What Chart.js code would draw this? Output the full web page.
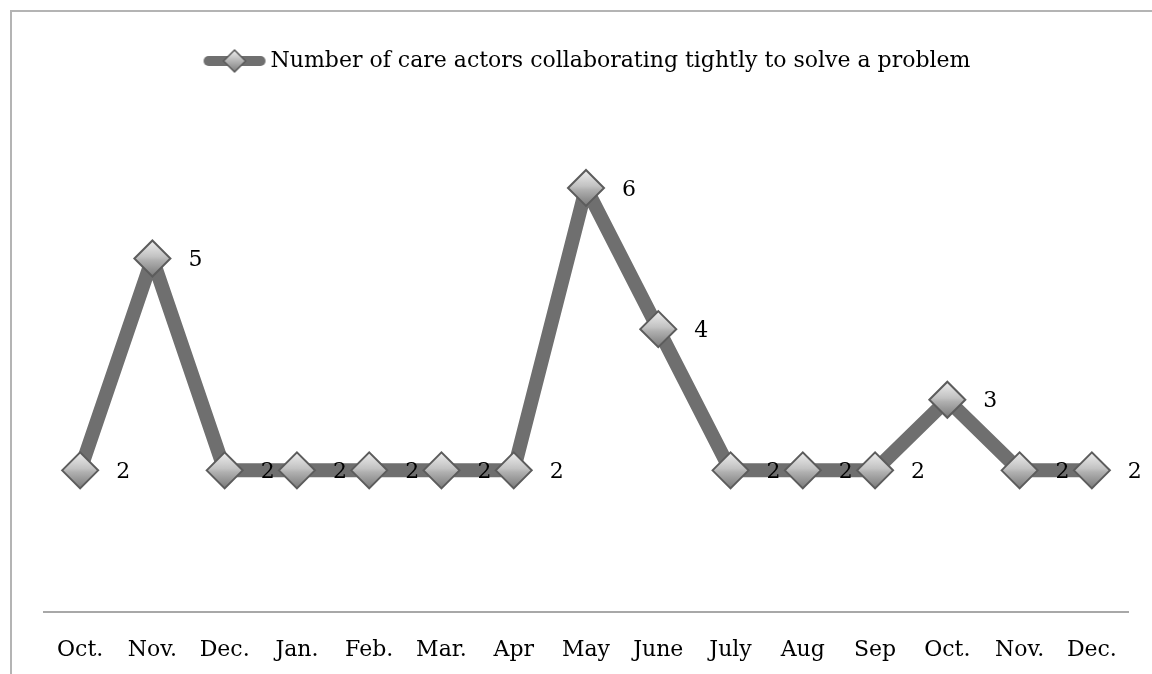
<!DOCTYPE html>
<html lang="en">
<head>
<meta charset="UTF-8">
<title>Care actors collaborating</title>
<script src="https://cdn.jsdelivr.net/npm/chart.js"></script>
<style>
  html, body { margin: 0; padding: 0; background: #fff; overflow: hidden; }
  .frame { position: absolute; left: 10px; top: 10px; width: 1160px; height: 700px;
           border-top: 2px solid #b4b4b4; border-left: 2px solid #b4b4b4; }
  .wrap { position: absolute; left: 0; top: 0; width: 1152px; height: 698px; }
</style>
</head>
<body>
<div class="frame"></div>
<div class="wrap"><canvas id="chart"></canvas></div>
<script>
// data
const months = ['Oct.', 'Nov.', 'Dec.', 'Jan.', 'Feb.', 'Mar.', 'Apr', 'May', 'June', 'July', 'Aug', 'Sep', 'Oct.', 'Nov.', 'Dec.'];
const actors = [2, 5, 2, 2, 2, 2, 2, 6, 4, 2, 2, 2, 3, 2, 2];
const seriesName = 'Number of care actors collaborating tightly to solve a problem';

const FONT = "'DejaVu Serif', serif";
const LINE = '#6f6f6f';

// legend sample: thick line with a diamond in the middle
function legendIcon() {
    const c = document.createElement('canvas');
    c.width = 80; c.height = 26;
    const g = c.getContext('2d');
    g.lineCap = 'round';
    g.lineWidth = 10;
    g.strokeStyle = LINE;
    g.beginPath(); g.moveTo(18, 13); g.lineTo(70, 13); g.stroke();
    const grad = g.createLinearGradient(0, 2, 0, 24);
    grad.addColorStop(0, '#f0f0f0');
    grad.addColorStop(0.5, '#b5b5b5');
    grad.addColorStop(1, '#7c7c7c');
    g.fillStyle = grad;
    g.strokeStyle = '#5a5a5a';
    g.lineWidth = 1.5;
    g.beginPath();
    g.moveTo(44, 2); g.lineTo(55, 13); g.lineTo(44, 24); g.lineTo(33, 13); g.closePath();
    g.fill(); g.stroke();
    return c;
}

// value labels to the right of each point
const valueLabels = {
    id: 'valueLabels',
    afterDatasetsDraw(chart) {
        const ctx = chart.ctx;
        const meta = chart.getDatasetMeta(0);
        ctx.save();
        ctx.font = '22px ' + FONT;
        ctx.fillStyle = '#000';
        ctx.textAlign = 'center';
        ctx.textBaseline = 'middle';
        meta.data.forEach((pt, i) => {
            ctx.fillText(String(actors[i]), pt.x + 43, pt.y + 2);
        });
        ctx.restore();
    }
};

const ctx = document.getElementById('chart').getContext('2d');
const chart = new Chart(ctx, {
    type: 'line',
    data: {
        labels: months,
        datasets: [{
            label: seriesName,
            data: actors,
            borderColor: LINE,
            borderWidth: 14,
            borderJoinStyle: 'bevel',
            tension: 0,
            clip: false,
            pointStyle: 'rectRot',
            pointRadius: 18,
            pointHoverRadius: 18,
            pointBorderWidth: 2,
            pointBorderColor: '#5c5c5c',
            pointBackgroundColor: function(context) {
                const chart = context.chart;
                if (!chart.chartArea || context.type !== 'data') return '#aaa';
                const y = chart.scales.y.getPixelForValue(context.parsed.y);
                const g = chart.ctx.createLinearGradient(0, y - 18, 0, y + 18);
                g.addColorStop(0, '#eeeeee');
                g.addColorStop(0.45, '#c2c2c2');
                g.addColorStop(0.55, '#b0b0b0');
                g.addColorStop(1, '#7a7a7a');
                return g;
            }
        }]
    },
    options: {
        responsive: true,
        maintainAspectRatio: false,
        animation: false,
        layout: { padding: { left: 44, right: 24, top: 30, bottom: 10 } },
        scales: {
            x: {
                offset: true,
                grid: { display: false, drawTicks: false },
                border: { display: true, color: '#a8a8a8', width: 2 },
                ticks: { color: '#000', padding: 25, font: { family: FONT, size: 22 } }
            },
            y: {
                display: false,
                min: 0,
                max: 7.5
            }
        },
        plugins: {
            legend: {
                display: true,
                labels: {
                    usePointStyle: true,
                    pointStyle: legendIcon(),
                    pointStyleWidth: 58,
                    color: '#000',
                    padding: 20,
                    font: { family: FONT, size: 22 }
                }
            },
            tooltip: { enabled: false }
        }
    },
    plugins: [valueLabels]
});
</script>
</body>
</html>
